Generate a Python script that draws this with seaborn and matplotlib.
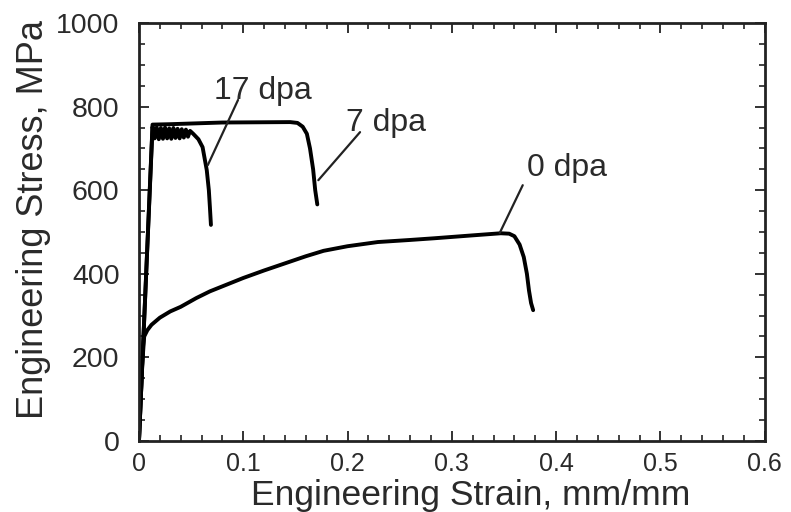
import pandas as pd
import matplotlib.pyplot as plt
import seaborn as sns
from matplotlib.ticker import MultipleLocator

# Curve data (strain mm/mm, stress MPa)
strain_0dpa = [0.0, 0.003, 0.005, 0.008, 0.012, 0.02, 0.03, 0.04, 0.055, 0.068,
               0.085, 0.1, 0.12, 0.14, 0.16, 0.177, 0.2, 0.229, 0.26, 0.283,
               0.32, 0.347, 0.355, 0.36, 0.365, 0.369, 0.372, 0.374, 0.376, 0.378]
stress_0dpa = [0, 180, 250, 265, 278, 295, 310, 321, 342, 358,
               375, 390, 408, 425, 442, 455, 466, 476, 481, 485,
               492, 497, 496, 490, 470, 440, 400, 360, 330, 313]

strain_7dpa = [0.0, 0.013, 0.03, 0.08, 0.145, 0.152, 0.157, 0.161, 0.164, 0.167, 0.169, 0.171]
stress_7dpa = [0, 757, 758, 762, 763, 761, 752, 735, 700, 650, 600, 566]

strain_17dpa = [0.0, 0.013, 0.015, 0.017, 0.019, 0.021, 0.023, 0.025, 0.027, 0.029,
                0.031, 0.033, 0.035, 0.037, 0.039, 0.041, 0.043, 0.045, 0.047, 0.049,
                0.052, 0.057, 0.061, 0.065, 0.067, 0.068, 0.069]
stress_17dpa = [0, 752, 724, 750, 722, 749, 723, 750, 724, 748,
                723, 749, 725, 747, 724, 746, 726, 745, 728, 742,
                735, 722, 703, 648, 600, 560, 517]

labels = ["0 dpa", "7 dpa", "17 dpa"]
# annotation text position (baseline) and leader line (text end, curve end)
label_xy = [(0.41, 634), (0.237, 742), (0.119, 818)]
leader_start = [(0.368, 612), (0.212, 739), (0.095, 816)]
leader_end = [(0.346, 498), (0.172, 624), (0.066, 660)]

x_ticks = [0, 0.1, 0.2, 0.3, 0.4, 0.5, 0.6]
y_ticks = [0, 200, 400, 600, 800, 1000]

sns.set_theme(style="ticks")
plt.rcParams['font.family'] = ['Liberation Sans', 'DejaVu Sans']
txt = '#2a2a2a'

curves = []
for name, sx, sy in [("0 dpa", strain_0dpa, stress_0dpa),
                     ("7 dpa", strain_7dpa, stress_7dpa),
                     ("17 dpa", strain_17dpa, stress_17dpa)]:
    curves.append(pd.DataFrame({'strain': sx, 'stress': sy, 'dose': name}))
df = pd.concat(curves, ignore_index=True)

fig = plt.figure(figsize=(7.91, 5.12), dpi=100)
ax = fig.add_axes([0.1757, 0.1387, 0.791, 0.8163])

for name in labels:
    sub = df[df['dose'] == name]
    sns.lineplot(data=sub, x='strain', y='stress', sort=False, estimator=None,
                 color='black', linewidth=2.8, ax=ax)

for lab, (tx, ty), (x0, y0), (x1, y1) in zip(labels, label_xy, leader_start, leader_end):
    ax.plot([x0, x1], [y0, y1], color='#222222', linewidth=1.6)
    ax.text(tx, ty, lab, fontsize=23, color=txt, ha='center', va='baseline')

ax.set_xlim(0, 0.6)
ax.set_ylim(0, 1000)
ax.set_xticks(x_ticks)
ax.set_xticklabels(['0', '0.1', '0.2', '0.3', '0.4', '0.5', '0.6'])
ax.set_yticks(y_ticks)
ax.xaxis.set_minor_locator(MultipleLocator(0.02))
ax.yaxis.set_minor_locator(MultipleLocator(50))
ax.tick_params(which='both', direction='in', top=True, right=True, color='#222222')
ax.tick_params(which='major', length=7, width=1.3)
ax.tick_params(which='minor', length=4, width=1.2)
ax.tick_params(axis='x', labelsize=18, labelcolor=txt, pad=8)
ax.tick_params(axis='y', labelsize=20.5, labelcolor=txt, pad=14)
for sp in ax.spines.values():
    sp.set_linewidth(2)
    sp.set_color('#222222')
    sp.set_visible(True)

ax.set_xlabel('Engineering Strain, mm/mm', fontsize=25.5, color=txt, labelpad=2)
ax.set_ylabel('Engineering Stress, MPa', fontsize=26, color=txt, labelpad=4)
ax.xaxis.label.set_x(0.53)
ax.yaxis.label.set_y(0.53)

fig.savefig('out.png', dpi=100)
